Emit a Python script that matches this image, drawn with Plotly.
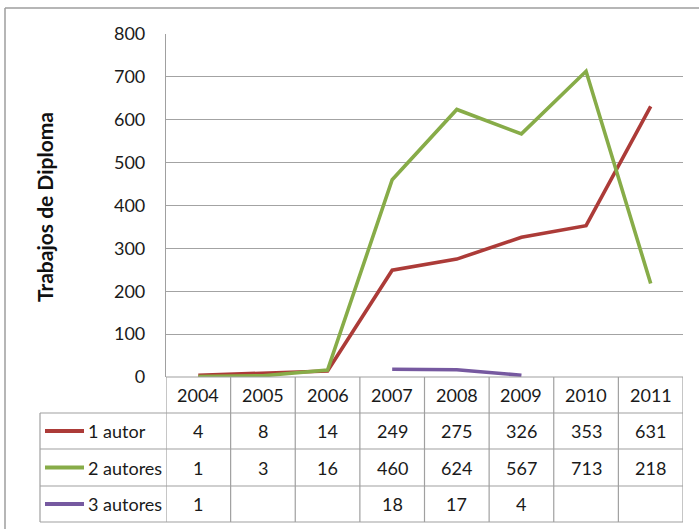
import plotly.graph_objects as go

years = ["2004", "2005", "2006", "2007", "2008", "2009", "2010", "2011"]
series_names = ["1 autor", "2 autores", "3 autores"]
autor1 = [4, 8, 14, 249, 275, 326, 353, 631]
autores2 = [1, 3, 16, 460, 624, 567, 713, 218]
autores3 = [1, None, None, 18, 17, 4, None, None]
colors = ["#AC3B38", "#87AC48", "#7659A0"]
y_title = "Trabajos de Diploma"

W, H = 699, 529
FONT = "Lato, Liberation Sans, Arial"
GRID = "#A3A3A3"
BORDER = "#A0A0A0"
TXT = "#1A1A1A"

def px(x):
    return x / W

def py(y):
    return 1 - y / H

plot_l, plot_r, plot_t, plot_b = 166, 683, 34, 377
rows = [377, 413, 449, 486, 522]
leg_l = 40

fig = go.Figure()
xs = list(range(len(years)))
for name, vals, col in zip(series_names, [autor1, autores2, autores3], colors):
    fig.add_trace(go.Scatter(x=xs, y=vals, mode="lines", name=name,
                             line=dict(color=col, width=3.6), connectgaps=False,
                             showlegend=False, hoverinfo="skip"))

shapes = []
shapes.append(dict(type="line", xref="paper", yref="paper", x0=px(5), x1=px(5), y0=py(529), y1=py(8),
                   line=dict(color="#9E9E9E", width=1.5)))
shapes.append(dict(type="line", xref="paper", yref="paper", x0=px(5), x1=px(699), y0=py(8), y1=py(8),
                   line=dict(color="#9E9E9E", width=1.5)))
for i, yy in enumerate(rows):
    x0 = px(plot_l) if i == 0 else px(leg_l)
    shapes.append(dict(type="line", xref="paper", yref="paper", x0=x0, x1=px(plot_r), y0=py(yy), y1=py(yy),
                       line=dict(color=BORDER, width=1.2)))
shapes.append(dict(type="line", xref="paper", yref="paper", x0=px(leg_l), x1=px(leg_l), y0=py(rows[1]), y1=py(rows[-1]),
                   line=dict(color=BORDER, width=1.2)))
for k in range(len(years) + 1):
    shapes.append(dict(type="line", xref="x", yref="paper", x0=k - 0.5, x1=k - 0.5, y0=py(rows[0]), y1=py(rows[-1]),
                       line=dict(color=BORDER, width=1.2)))

annotations = []
for i, yr in enumerate(years):
    annotations.append(dict(x=i, xref="x", y=py((rows[0] + rows[1]) / 2), yref="paper", text=yr,
                            xanchor="center", yanchor="middle", showarrow=False,
                            font=dict(family=FONT, size=18, color=TXT)))
for r, (name, vals, col) in enumerate(zip(series_names, [autor1, autores2, autores3], colors)):
    yc = py((rows[r + 1] + rows[r + 2]) / 2)
    for i, v in enumerate(vals):
        if v is not None:
            annotations.append(dict(x=i, xref="x", y=yc, yref="paper", text=str(v), showarrow=False,
                                    xanchor="center", yanchor="middle",
                                    font=dict(family=FONT, size=18, color=TXT)))
    shapes.append(dict(type="line", xref="paper", yref="paper", x0=px(45), x1=px(84), y0=yc, y1=yc,
                       line=dict(color=col, width=4)))
    annotations.append(dict(x=px(86), xref="paper", y=yc, yref="paper", text=name, showarrow=False,
                            xanchor="left", yanchor="middle", font=dict(family=FONT, size=18, color=TXT)))
annotations.append(dict(x=px(45), xref="paper", y=py(207), yref="paper", text="<b>" + y_title + "</b>",
                        textangle=-90, xanchor="center", yanchor="middle", showarrow=False,
                        font=dict(family=FONT, size=21, color="#111111")))

fig.update_layout(
    width=W, height=H, autosize=False,
    margin=dict(l=0, r=0, t=0, b=0, pad=0, autoexpand=False),
    paper_bgcolor="white", plot_bgcolor="white",
    shapes=shapes, annotations=annotations,
    xaxis=dict(domain=[px(plot_l), px(plot_r)], range=[-0.5, len(years) - 0.5], showticklabels=False,
               showgrid=False, zeroline=False, showline=False, ticks="", automargin=False),
    yaxis=dict(domain=[py(plot_b), py(plot_t)], range=[0, 800], dtick=100, showgrid=True, gridcolor=GRID,
               gridwidth=1.4, zeroline=False, showline=True, linecolor=BORDER, linewidth=1.2, ticks="",
               automargin=False, ticklabelstandoff=16, tickfont=dict(family=FONT, size=18, color=TXT)),
)

fig.write_html("out.html")
